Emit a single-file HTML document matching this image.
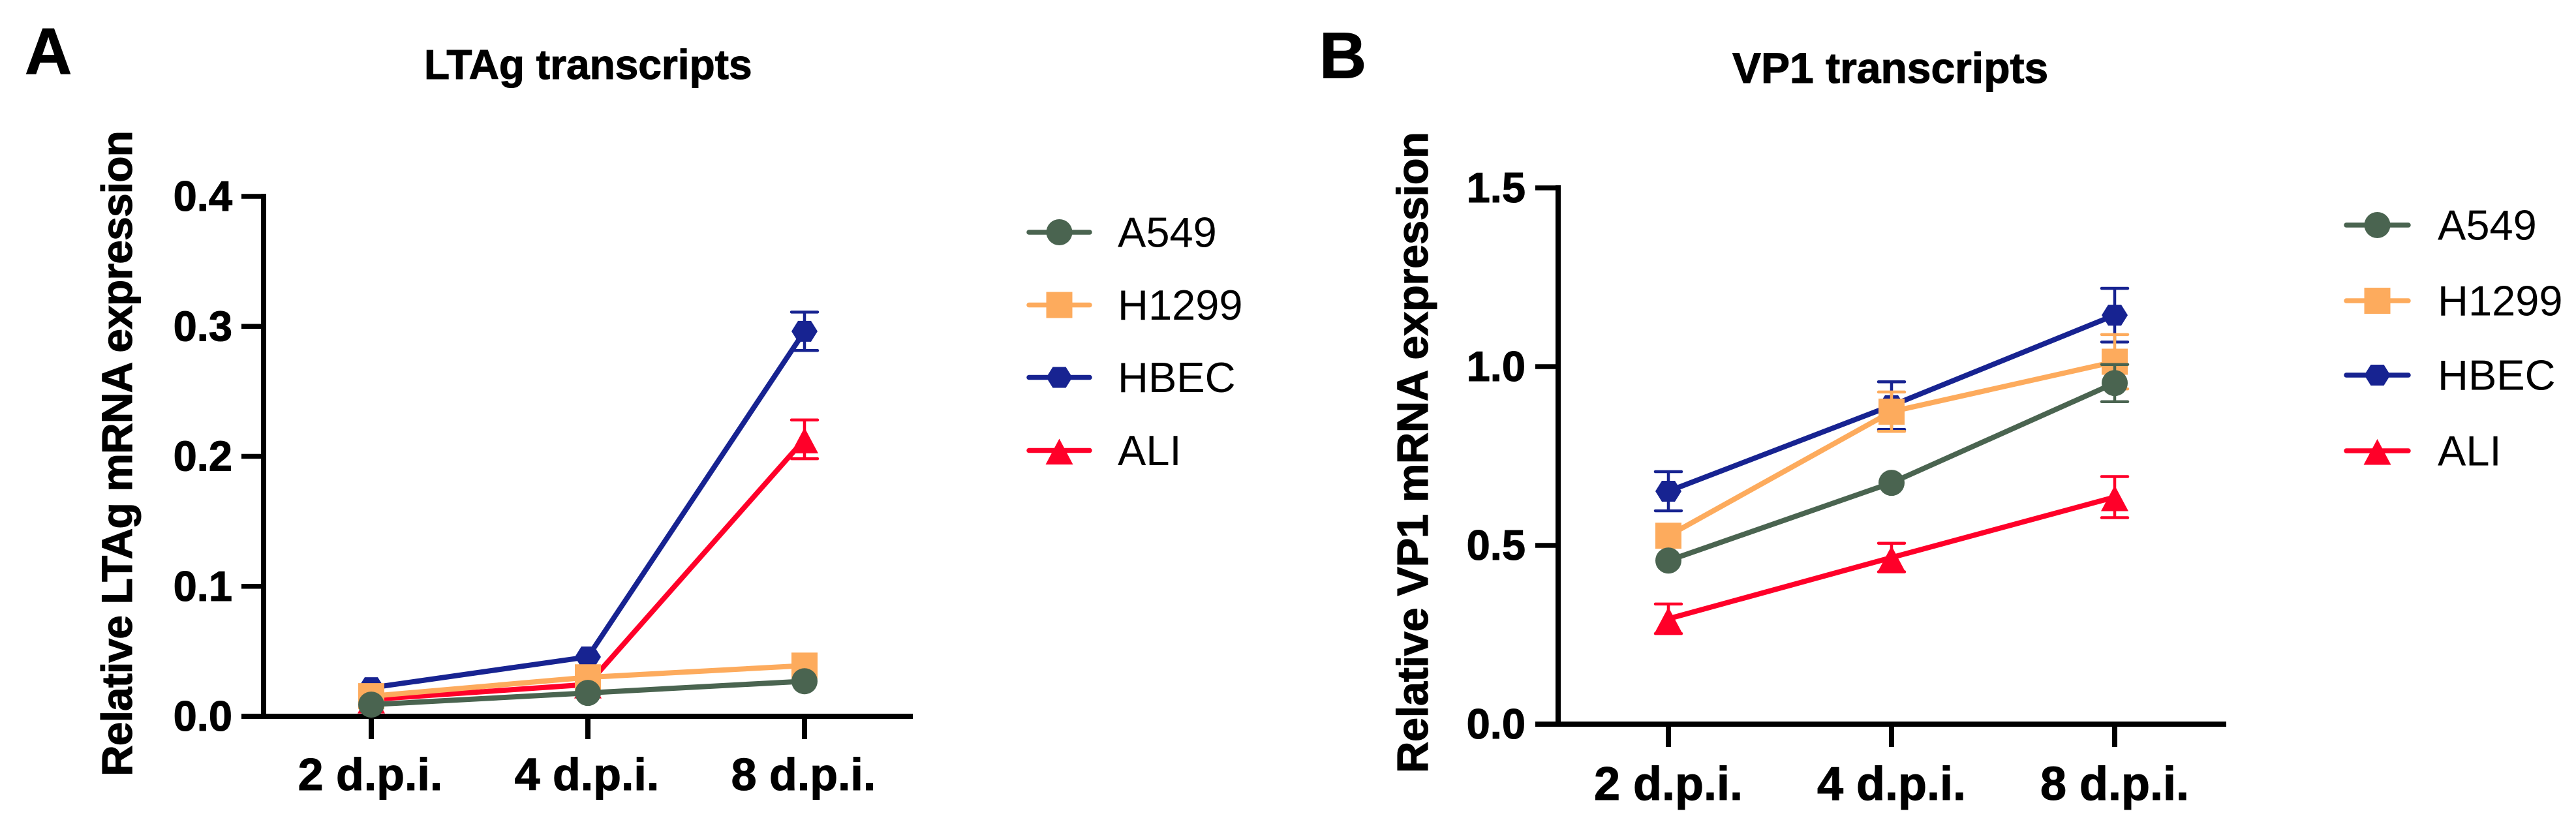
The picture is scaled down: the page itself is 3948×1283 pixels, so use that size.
<!DOCTYPE html>
<html lang="en">
<head>
<meta charset="utf-8">
<title>LTAg and VP1 transcripts</title>
<style>
html,body{margin:0;padding:0;background:#fff}
svg{display:block}
text{font-family:"Liberation Sans",Arial,sans-serif;fill:#000}
text[font-weight="bold"]{stroke:#000;stroke-width:1.1px}
</style>
</head>
<body>
<svg id="figure" xmlns="http://www.w3.org/2000/svg" width="3948" height="1283" viewBox="0 0 3948 1283">
  <rect width="3948" height="1283" fill="#fff"/>
  <g id="panel-a"></g>
  <g id="panel-b"></g>
</svg>
<script>
// Shared data
const categories = ["2 d.p.i.", "4 d.p.i.", "8 d.p.i."];
const seriesNames = ["A549", "H1299", "HBEC", "ALI"];

// Panel A: LTAg
const ticksA = [0, 0.1, 0.2, 0.3, 0.4];
const a549A = [0.009, 0.018, 0.027];
const h1299A = [0.0155, 0.030, 0.039];
const hbecA = [0.022, 0.0457, 0.2962];
const aliA = [0.013, 0.0245, 0.2131];
const a549AErr = [0, 0, 0];
const h1299AErr = [0, 0, 0];
const hbecAErr = [0, 0, 0.0148];
const aliAErr = [0, 0, 0.0149];

// Panel B: VP1
const ticksB = [0, 0.5, 1.0, 1.5];
const a549B = [0.4575, 0.675, 0.954];
const h1299B = [0.527, 0.874, 1.0137];
const hbecB = [0.6515, 0.891, 1.144];
const aliB = [0.2947, 0.466, 0.635];
const a549BErr = [0, 0, 0.052];
const h1299BErr = [0, 0.055, 0.076];
const hbecBErr = [0.0547, 0.0666, 0.075];
const aliBErr = [0.0413, 0.04, 0.0575];

const colors = {A549:"#4a6450", H1299:"#fdab5d", HBEC:"#172391", ALI:"#ff0029"};
const drawOrder = ["HBEC", "ALI", "H1299", "A549"];
const NS = "http://www.w3.org/2000/svg";

function mk(parent, tag, attrs, txt) {
  const el = document.createElementNS(NS, tag);
  for (const k in attrs) el.setAttribute(k, attrs[k]);
  if (txt !== undefined) el.textContent = txt;
  parent.appendChild(el);
  return el;
}

function marker(parent, name, cx, cy) {
  const c = colors[name];
  let el;
  if (name === "A549") {
    el = mk(parent, "circle", {cx: cx, cy: cy, r: 20, fill: c});
  } else if (name === "H1299") {
    el = mk(parent, "rect", {x: cx - 20, y: cy - 20, width: 40, height: 40, fill: c});
  } else if (name === "HBEC") {
    const pts = [[-20,0],[-10,-16],[10,-16],[20,0],[10,16],[-10,16]];
    el = mk(parent, "polygon", {points: pts.map(p => (cx + p[0]) + "," + (cy + p[1])).join(" "), fill: c});
  } else {
    const pts = [[0,-18],[21,21.5],[-21,21.5]];
    el = mk(parent, "polygon", {points: pts.map(p => (cx + p[0]) + "," + (cy + p[1])).join(" "), fill: c});
  }
  
  
  return el;
}

function drawPanel(p) {
  const root = document.getElementById(p.id);
  const maxTick = p.ticks[p.ticks.length - 1];
  const xScale = i => p.xFirst + i * p.xStep;
  const yScale = v => p.y0 - (v / maxTick) * (p.y0 - p.yTop);

  // Axes
  const yAxis = mk(root, "line", {x1: p.axisX, x2: p.axisX, y1: yScale(maxTick) - 4, y2: p.y0 + 4, stroke: "#000", "stroke-width": 8});
  
  
  const xAxis = mk(root, "line", {x1: p.tickLeft, x2: p.axisRight, y1: p.y0, y2: p.y0, stroke: "#000", "stroke-width": 8});
  
  

  p.ticks.forEach(t => {
    const tick = mk(root, "line", {x1: p.tickLeft, x2: p.axisX, y1: yScale(t), y2: yScale(t), stroke: "#000", "stroke-width": 7.5});
    
    
    const label = mk(root, "text", {x: p.tickLabelX, y: yScale(t) + 22, "text-anchor": "end", "font-size": 65, "font-weight": "bold"}, t.toFixed(1));
    
    
  });

  categories.forEach((c, i) => {
    const tick = mk(root, "line", {x1: xScale(i), x2: xScale(i), y1: p.y0, y2: p.y0 + 35, stroke: "#000", "stroke-width": 8});
    
    
    const label = mk(root, "text", {x: xScale(i) + p.xLabelShift, y: p.xLabelY, "text-anchor": "middle", "font-size": p.xLabelSize, "font-weight": "bold"}, c);
    
    
  });

  // Titles
  const title = mk(root, "text", {x: p.titleX, y: p.titleY, "font-size": p.titleSize, "font-weight": "bold"}, p.title);
  
  
  const letter = mk(root, "text", {x: p.letterX, y: p.letterY, "font-size": 100, "font-weight": "bold"}, p.letter);
  
  
  const yTitle = mk(root, "text", {transform: "translate(" + p.yTitleX + "," + p.yTitleBottom + ") rotate(-90)", "font-size": p.yTitleSize, "font-weight": "bold", textLength: p.yTitleLen, lengthAdjust: "spacing"}, p.yTitle);
  
  

  // Series
  drawOrder.forEach(name => {
    const s = p.series[name];
    const g = mk(root, "g", {});
    
    
    const pts = s.values.map((v, i) => xScale(i) + "," + yScale(v)).join(" ");
    const line = mk(g, "polyline", {points: pts, fill: "none", stroke: colors[name], "stroke-width": 8, "stroke-linejoin": "round"});
    
    
    s.values.forEach((v, i) => {
      const x = xScale(i);
      if (s.err[i] > 0) {
        const hi = yScale(v + s.err[i]);
        const lo = yScale(v - s.err[i]);
        const err = mk(g, "path", {d: "M" + (x - 20) + " " + hi + "H" + (x + 20) + "M" + x + " " + hi + "V" + lo + "M" + (x - 20) + " " + lo + "H" + (x + 20), fill: "none", stroke: colors[name], "stroke-width": 4.5, "stroke-linecap": "round"});
        
        
      }
      marker(g, name, x, yScale(v));
    });
  });

  // Legend
  seriesNames.forEach((name, i) => {
    const g = mk(root, "g", {});
    
    
    const ly = p.legendY[i];
    const line = mk(g, "line", {x1: p.legendX1, x2: p.legendX2, y1: ly, y2: ly, stroke: colors[name], "stroke-width": 7.5, "stroke-linecap": "round"});
    
    
    marker(g, name, (p.legendX1 + p.legendX2) / 2, ly);
    const label = mk(g, "text", {x: p.legendTextX, y: ly + 22.5, "font-size": 65}, name);
    
    
  });
}

drawPanel({
  id: "panel-a", letter: "A", letterX: 38, letterY: 113,
  title: "LTAg transcripts", titleX: 650, titleY: 121, titleSize: 64,
  yTitle: "Relative LTAg mRNA expression", yTitleX: 202, yTitleBottom: 1190, yTitleSize: 66, yTitleLen: 990,
  ticks: ticksA, axisX: 404, axisRight: 1399, tickLeft: 370, y0: 1098, yTop: 301, tickLabelX: 356,
  xFirst: 569, xStep: 332, xLabelY: 1211, xLabelSize: 70, xLabelShift: -1.5,
  legendY: [356, 467.5, 578.5, 690.5], legendX1: 1577, legendX2: 1670, legendTextX: 1713,
  series: {
    A549: {values: a549A, err: a549AErr},
    H1299: {values: h1299A, err: h1299AErr},
    HBEC: {values: hbecA, err: hbecAErr},
    ALI: {values: aliA, err: aliAErr}
  }
});

drawPanel({
  id: "panel-b", letter: "B", letterX: 2022, letterY: 119.5,
  title: "VP1 transcripts", titleX: 2655, titleY: 127, titleSize: 66,
  yTitle: "Relative VP1 mRNA expression", yTitleX: 2188, yTitleBottom: 1185, yTitleSize: 67, yTitleLen: 983,
  ticks: ticksB, axisX: 2388, axisRight: 3412, tickLeft: 2353, y0: 1110, yTop: 288, tickLabelX: 2338,
  xFirst: 2557, xStep: 342, xLabelY: 1226, xLabelSize: 72, xLabelShift: 0,
  legendY: [345, 461, 575, 691], legendX1: 3596, legendX2: 3691, legendTextX: 3736,
  series: {
    A549: {values: a549B, err: a549BErr},
    H1299: {values: h1299B, err: h1299BErr},
    HBEC: {values: hbecB, err: hbecBErr},
    ALI: {values: aliB, err: aliBErr}
  }
});
</script>
</body>
</html>
